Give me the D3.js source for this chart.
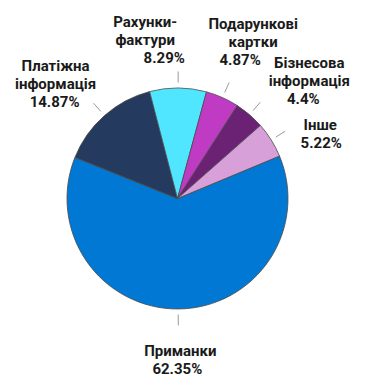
<!DOCTYPE html>
<html><head><meta charset="utf-8">
<script src="https://cdn.jsdelivr.net/npm/d3@7"></script>
<style>html,body{margin:0;padding:0;background:#fff;}svg{display:block;}</style>
</head><body>
<script>
const categories = ["Приманки", "Платіжна інформація", "Рахунки-фактури", "Подарункові картки", "Бізнесова інформація", "Інше"];
const labelLines = [["Приманки"], ["Платіжна", "інформація"], ["Рахунки-", "фактури"], ["Подарункові", "картки"], ["Бізнесова", "інформація"], ["Інше"]];
const values = [62.35, 14.87, 8.29, 4.87, 4.4, 5.22];
const valueLabels = ["62.35%", "14.87%", "8.29%", "4.87%", "4.4%", "5.22%"];
const colors = ["#0078D4", "#243A5E", "#50E6FF", "#C03BC4", "#6B2274", "#D7A0D9"];
// label block centre offsets from leader end, and horizontal shift of the value line (layout only)
const labelOffsets = [[2, 34], [-38, -20], [-33, -32], [24, -41], [49, -22], [35, 2]];
const valueShift = [-3, -1, 19, -13, -6, 1];

const W = 382, H = 378, cx = 177.5, cy = 198.5, R = 110.5;
const startDeg = 67.4;
const svg = d3.select("body").append("svg").attr("width", W).attr("height", H);
const g = svg.append("g").attr("transform", `translate(${cx},${cy})`);

const pie = d3.pie().sort(null).value(d => d)
  .startAngle(startDeg * Math.PI / 180).endAngle(startDeg * Math.PI / 180 + 2 * Math.PI);
const arcs = pie(values);
const arc = d3.arc().innerRadius(0).outerRadius(R);

g.selectAll("path.slice").data(arcs).join("path")
  .attr("class", "slice")
  .attr("d", arc)
  .attr("fill", (d, i) => colors[i])
  .attr("stroke", "#4a4a4a").attr("stroke-width", 0.8).attr("stroke-linejoin", "round");

const r1 = 116, r2 = 127;
const pt = (a, r) => [Math.sin(a) * r, -Math.cos(a) * r];
arcs.forEach((d, i) => {
  const a = (d.startAngle + d.endAngle) / 2;
  const p1 = pt(a, r1), p2 = pt(a, r2);
  g.append("line").attr("x1", p1[0]).attr("y1", p1[1]).attr("x2", p2[0]).attr("y2", p2[1])
    .attr("stroke", "#9a9a9a").attr("stroke-width", 1);
  const lines = labelLines[i].concat([valueLabels[i]]);
  const lh = 18;
  const bx = p2[0] + labelOffsets[i][0], by = p2[1] + labelOffsets[i][1];
  const t = g.append("text").attr("text-anchor", "middle")
    .attr("font-family", "Roboto, 'Liberation Sans', sans-serif").attr("font-weight", 700)
    .attr("font-size", "15px").attr("fill", "#1a1a1a");
  lines.forEach((s, k) => {
    const isVal = k === lines.length - 1;
    t.append("tspan").attr("x", bx + (isVal ? valueShift[i] : 0))
      .attr("y", by + (k - (lines.length - 1) / 2) * lh).attr("dy", "0.36em").text(s);
  });
});
</script>
</body></html>
